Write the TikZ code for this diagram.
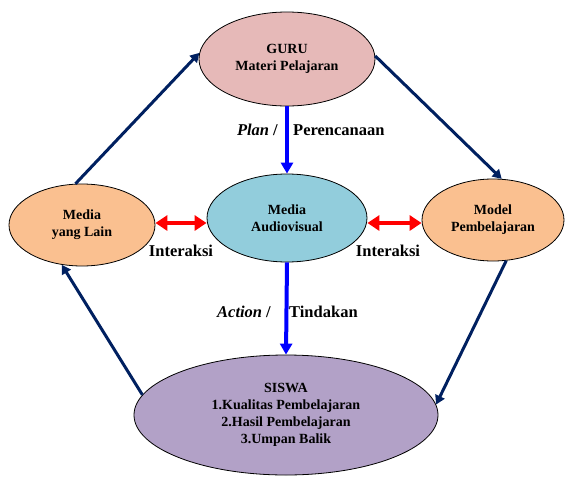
\documentclass[tikz,border=0pt]{standalone}
\usepackage{fontspec}
\setmainfont{Liberation Serif}[BoldFont={Liberation Serif Bold},BoldItalicFont={Liberation Serif Bold Italic}]
\usetikzlibrary{arrows.meta,shapes.geometric}
\definecolor{gurufill}{RGB}{230,185,184}
\definecolor{avfill}{RGB}{146,205,220}
\definecolor{orfill}{RGB}{250,192,144}
\definecolor{sisfill}{RGB}{178,161,199}
\definecolor{navy}{RGB}{0,32,96}
\begin{document}
\begin{tikzpicture}[x=1pt,y=-1pt,
  oval/.style={ellipse,draw=black,line width=0.8pt,inner sep=0pt,align=center,
    font=\fontsize{14}{17}\selectfont\bfseries},
  navyarrow/.style={draw=navy,line width=3pt,-{Triangle[length=9pt,width=10pt]}},
  bluearrow/.style={draw=blue,line width=4pt,-{Triangle[length=11pt,width=12pt]}},
  redarrow/.style={draw=red,line width=4pt,{Triangle[length=12pt,width=15pt]}-{Triangle[length=12pt,width=15pt]}},
  lbl/.style={inner sep=0pt,font=\fontsize{16.5}{20}\selectfont\bfseries}]
\useasboundingbox (0,0) rectangle (568,477);
\node[oval,fill=gurufill,minimum width=176pt,minimum height=94pt] (guru) at (287,59) {GURU\\Materi Pelajaran};
\node[oval,fill=avfill,minimum width=160pt,minimum height=88pt] (av) at (287,218) {Media\\Audiovisual};
\node[oval,fill=orfill,minimum width=146pt,minimum height=82pt] (lain) at (82,225) {Media\\yang Lain};
\node[oval,fill=orfill,minimum width=142pt,minimum height=82pt] (model) at (493,220) {Model\\Pembelajaran};
\node[oval,fill=sisfill,minimum width=304pt,minimum height=120pt] (siswa) at (286,415) {SISWA\\1.Kualitas Pembelajaran\\2.Hasil Pembelajaran\\3.Umpan Balik};
\coordinate (ry) at (0,223);
\draw[bluearrow] (guru.south) -- (av.north);
\draw[bluearrow] (av.south) -- (siswa.north);
\draw[redarrow] (lain.east |- ry) -- (av.west |- ry);
\draw[redarrow] (av.east |- ry) -- (model.west |- ry);
\draw[navyarrow] (lain.99) -- (guru.176);
\draw[navyarrow] (guru.2) -- (model.78);
\draw[navyarrow] (model.288) -- (siswa.4);
\draw[navyarrow] (siswa.172) -- (lain.243);
\node[lbl,anchor=east] (plan) at (278,130) {\textit{Plan} /};
\node[lbl,anchor=west] (pren) at (293,130) {Perencanaan};
\node[lbl,anchor=east] (action) at (271,312) {\textit{Action} /};
\node[lbl,anchor=west] (tind) at (289,312) {Tindakan};
\node[lbl] (int1) at (181,251) {Interaksi};
\node[lbl] (int2) at (388,251) {Interaksi};
\end{tikzpicture}
\end{document}
